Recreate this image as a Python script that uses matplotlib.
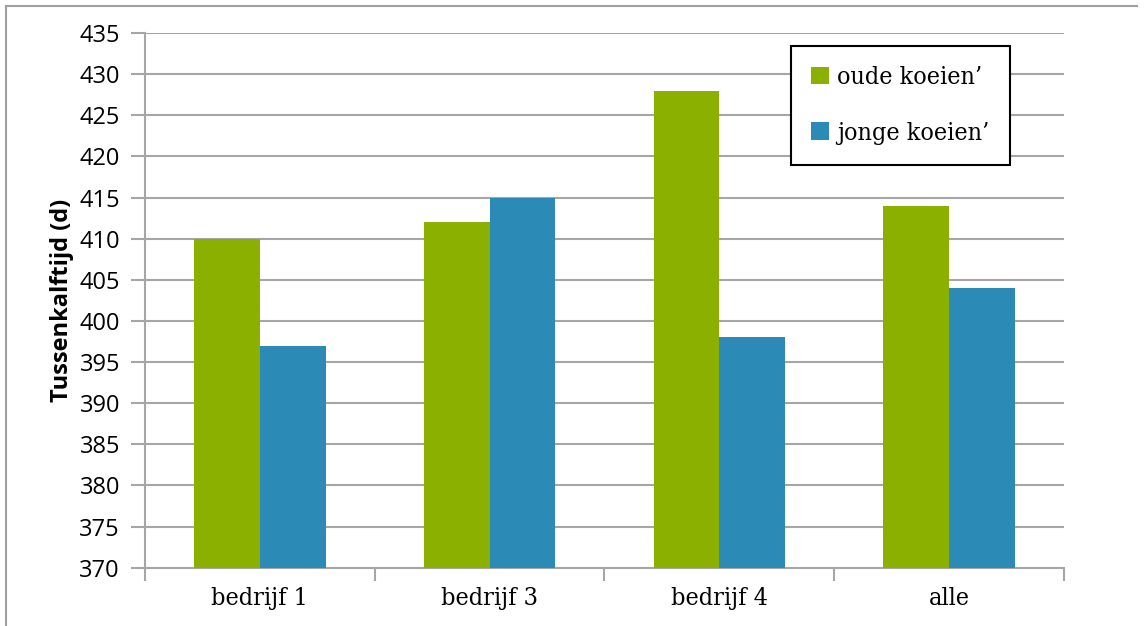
import matplotlib
matplotlib.use("Agg")
import matplotlib.pyplot as plt
import numpy as np

categories = ["bedrijf 1", "bedrijf 3", "bedrijf 4", "alle"]
oude = [410, 412, 428, 414]
jonge = [397, 415, 398, 404]
series_labels = ["oude koeien\u2019", "jonge koeien\u2019"]
y_ticks = list(range(370, 436, 5))

green = "#8CB000"
blue = "#2B8AB6"
grid_col = "#A6A6A6"
serif_font = {"family": "DejaVu Serif", "stretch": "condensed"}

fig = plt.figure(figsize=(11.46, 6.26), dpi=100)
ax = fig.add_axes([0.1265, 0.0931, 0.8019, 0.8542])

x = np.arange(len(categories))
w = 0.286
ax.bar(x - w / 2, oude, width=w, color=green, label=series_labels[0], zorder=3)
ax.bar(x + w / 2, jonge, width=w, color=blue, label=series_labels[1], zorder=3)

ax.set_xlim(-0.5, len(categories) - 0.5)
ax.set_ylim(370, 435)
ax.set_yticks(y_ticks)
ax.set_yticklabels([str(v) for v in y_ticks], fontsize=17, family="Open Sans")
ax.yaxis.grid(True, color=grid_col, linewidth=1.5, zorder=0)
ax.tick_params(axis="y", length=10, width=1.5, color=grid_col, pad=8)

# category labels between boundary ticks
ax.set_xticks(x)
ax.set_xticklabels(categories, fontsize=18, **serif_font)
ax.tick_params(axis="x", length=0, pad=14)
ax.set_xticks(np.arange(-0.5, len(categories)), minor=True)
ax.tick_params(axis="x", which="minor", length=9, width=1.5, color=grid_col)

for s in ["top", "right"]:
    ax.spines[s].set_visible(False)
ax.spines["left"].set_color(grid_col)
ax.spines["left"].set_linewidth(1.5)
ax.spines["bottom"].set_color(grid_col)
ax.spines["bottom"].set_linewidth(1.5)

ax.set_ylabel("Tussenkalftijd (d)", fontsize=17, fontweight="bold", family="Open Sans", labelpad=4)

leg = ax.legend(loc="upper left", bbox_to_anchor=(0.703, 0.975), frameon=True, fancybox=False,
                edgecolor="black", framealpha=1,
                prop={"family": "DejaVu Serif", "stretch": "condensed", "size": 18},
                handlelength=0.7, handleheight=0.7, handletextpad=0.35, labelspacing=1.3,
                borderpad=0.8, borderaxespad=0)
leg.get_frame().set_linewidth(1.5)

# outer chart border (left and top edges)
fig.add_artist(plt.Line2D([0.005, 0.005], [0, 0.991], color="#A0A0A0", linewidth=1.5, transform=fig.transFigure))
fig.add_artist(plt.Line2D([0.005, 0.992], [0.991, 0.991], color="#A0A0A0", linewidth=1.5, transform=fig.transFigure))

fig.savefig("out.png", dpi=100)
